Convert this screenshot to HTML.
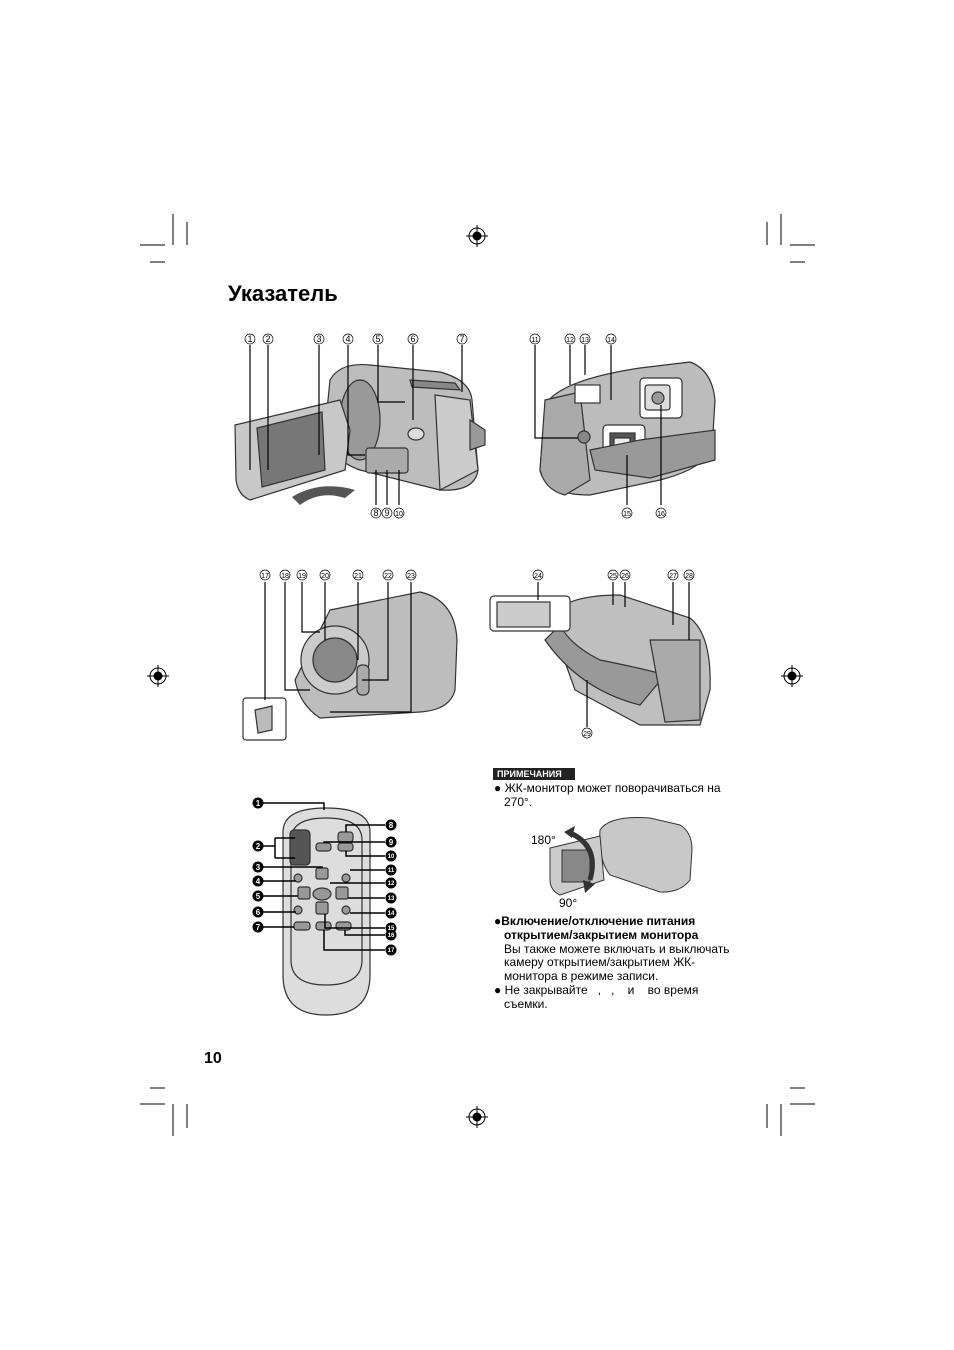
<!DOCTYPE html>
<html><head><meta charset="utf-8"><style>
body{margin:0;background:#fff;}
#p{position:relative;width:954px;height:1350px;overflow:hidden;font-family:"Liberation Sans",sans-serif;color:#000;}
.t{position:absolute;white-space:nowrap;}
svg{position:absolute;left:0;top:0;}
</style></head><body><div id="p">
<svg width="954" height="1350" viewBox="0 0 954 1350" font-family="Liberation Sans, DejaVu Sans, sans-serif">
<g stroke="#000" stroke-width="1" fill="none">
<path d="M173 214V245M187 222V245M140 245H165M150 262H165"/>
<path d="M781 214V245M767 222V245M790 245H815M790 262H805"/>
<path d="M173 1104V1136M187 1104V1128M140 1104H165M150 1088H165"/>
<path d="M781 1104V1136M767 1104V1128M790 1104H815M790 1088H805"/>
</g>
<g stroke="#000" fill="none">
<circle cx="477" cy="236" r="8"/><circle cx="477" cy="236" r="4" fill="#000"/><path d="M466 236H488M477 225V247"/>
<circle cx="477" cy="1117" r="8"/><circle cx="477" cy="1117" r="4" fill="#000"/><path d="M466 1117H488M477 1106V1128"/>
<circle cx="158" cy="676" r="8"/><circle cx="158" cy="676" r="4" fill="#000"/><path d="M147 676H169M158 665V687"/>
<circle cx="792" cy="676" r="8"/><circle cx="792" cy="676" r="4" fill="#000"/><path d="M781 676H803M792 665V687"/>
</g>

<g stroke="#333" stroke-width="1.2">
<path d="M330 380Q340 362 370 365L440 372Q470 380 472 400L478 470Q475 492 440 490L360 470Q330 460 325 430Z" fill="#bdbdbd"/>
<path d="M435 395L470 400L478 470L440 490Z" fill="#ccc"/>
<ellipse cx="360" cy="420" rx="20" ry="40" fill="#999"/>
<path d="M235 425L340 400L350 430L345 470L250 500Q238 495 236 480Z" fill="#c8c8c8"/>
<path d="M257 428L322 412L325 470L262 487Z" fill="#777"/>
<rect x="366" y="448" width="42" height="25" rx="3" fill="#aaa"/>
<ellipse cx="416" cy="434" rx="8" ry="6" fill="#ddd"/>
<path d="M410 380L455 383L460 390L412 387Z" fill="#888"/>
<path d="M470 420L485 430L485 445L470 450Z" fill="#999"/>
</g>
<path d="M292 497Q320 480 355 490L345 498Q320 490 300 505Z" fill="#555"/>
<g stroke="#333" stroke-width="1.2">
<path d="M545 405Q560 380 640 368L690 362Q712 370 715 400L712 450Q700 470 660 480L590 495Q545 495 540 470Z" fill="#bcbcbc"/>
<path d="M545 400L580 392L590 480L565 495Q545 490 540 470Z" fill="#aaa"/>
<rect x="640" y="378" width="42" height="40" rx="4" fill="#fff"/>
<rect x="645" y="385" width="25" height="25" rx="3" fill="#ddd"/><circle cx="658" cy="398" r="6" fill="#999"/>
<rect x="603" y="425" width="42" height="38" rx="4" fill="#fff"/>
<rect x="610" y="433" width="25" height="20" fill="#555"/><rect x="614" y="438" width="16" height="9" fill="#eee"/>
<path d="M590 450L640 440L715 430L715 460L650 478L595 470Z" fill="#999"/>
<rect x="575" y="385" width="25" height="18" fill="#fff"/>
<circle cx="584" cy="437" r="6" fill="#888"/>
</g>
<g stroke="#333" stroke-width="1.2">
<path d="M330 610L420 592Q455 600 457 640L455 690Q450 710 420 712L320 718Q300 705 295 680Z" fill="#bdbdbd"/>
<circle cx="335" cy="660" r="34" fill="#ccc"/><circle cx="335" cy="660" r="22" fill="#888"/>
<rect x="357" y="665" width="12" height="30" rx="5" fill="#aaa"/>
<rect x="243" y="698" width="43" height="42" rx="3" fill="#fff"/>
<path d="M255 710L272 706L272 730L258 733Z" fill="#bbb"/>
</g>
<g stroke="#333" stroke-width="1.2">
<path d="M550 620Q560 595 620 595L690 618Q712 635 710 690L700 725L640 725L575 690Z" fill="#bfbfbf"/>
<path d="M545 640Q580 690 640 705L665 675Q650 670 600 660Q570 645 560 625Z" fill="#999"/>
<path d="M650 640L700 640L700 720L665 722Z" fill="#aaa"/>
<rect x="490" y="596" width="80" height="35" rx="4" fill="#fff"/>
<rect x="497" y="602" width="53" height="25" fill="#ccc"/>
</g>
<g stroke="#333" stroke-width="1.2">
<path d="M283 832Q283 808 326 808Q370 808 370 832L370 975Q370 1015 326 1015Q283 1015 283 975Z" fill="#ddd"/>
<path d="M291 840Q291 818 326 818Q362 818 362 840L362 960Q362 985 326 985Q291 985 291 960Z" fill="none"/>
<rect x="290" y="830" width="20" height="35" rx="4" fill="#555"/>
<g fill="#999"><rect x="338" y="832" width="15" height="10" rx="3"/><rect x="316" y="843" width="15" height="8" rx="3"/><rect x="338" y="843" width="15" height="8" rx="3"/>
<rect x="316" y="868" width="12" height="11" rx="2"/><circle cx="298" cy="878" r="4"/><circle cx="346" cy="878" r="4"/>
<rect x="298" y="887" width="12" height="12" rx="2"/><ellipse cx="322" cy="894" rx="9" ry="6"/><rect x="336" y="887" width="12" height="12" rx="2"/>
<rect x="316" y="902" width="12" height="12" rx="2"/><circle cx="298" cy="910" r="4"/><circle cx="346" cy="910" r="4"/>
<rect x="294" y="922" width="16" height="8" rx="3"/><rect x="316" y="922" width="15" height="8" rx="3"/><rect x="336" y="922" width="15" height="8" rx="3"/></g>
</g>
<g stroke="#000" stroke-width="1.5" fill="none">
<path d="M263 803H324V810"/><path d="M263 846H275M275 838V858M275 838H295M275 858H295"/>
<path d="M263 867H322V868"/><path d="M263 881H296"/><path d="M263 896H298"/><path d="M263 912H296"/><path d="M263 927H294"/>
<path d="M385 825H346V832"/><path d="M385 842H324V843"/><path d="M385 856H346V851"/><path d="M385 870H350"/>
<path d="M385 883H330"/><path d="M385 898H348"/><path d="M385 913H350"/><path d="M385 928H325V914"/><path d="M385 935H345V930"/><path d="M385 950H324V930"/>
</g>
<g fill="#000"><circle cx="258" cy="803" r="5.5"/><circle cx="258" cy="846" r="5.5"/><circle cx="258" cy="867" r="5.5"/><circle cx="258" cy="881" r="5.5"/><circle cx="258" cy="896" r="5.5"/><circle cx="258" cy="912" r="5.5"/><circle cx="258" cy="927" r="5.5"/>
<circle cx="391" cy="825" r="5.5"/><circle cx="391" cy="842" r="5.5"/><circle cx="391" cy="856" r="5.5"/><circle cx="391" cy="870" r="5.5"/><circle cx="391" cy="883" r="5.5"/><circle cx="391" cy="898" r="5.5"/><circle cx="391" cy="913" r="5.5"/><circle cx="391" cy="928" r="5.5"/><circle cx="391" cy="935" r="5.5"/><circle cx="391" cy="950" r="5.5"/></g>
<g stroke="#000" stroke-width="1.2" fill="none">
<path d="M250 345V470"/><path d="M268 345V470"/><path d="M319 345V455"/><path d="M348 345V455H365"/><path d="M378 345V402H405"/><path d="M413 345V420"/><path d="M462 345V392"/>
<path d="M376 505V470M387 505V470M399 505V470"/>
<path d="M535 345V438H578"/><path d="M570 345V385"/><path d="M585 345V375"/><path d="M611 345V400"/><path d="M627 505V455"/><path d="M661 505V405"/>
<path d="M265 582V700"/><path d="M285 582V690H310"/><path d="M302 582V632H320"/><path d="M325 582V640"/><path d="M358 582V660"/><path d="M388 582V680H362"/><path d="M411 582V712H330"/>
<path d="M538 582V600"/><path d="M613 582V605"/><path d="M625 582V607"/><path d="M673 582V625"/><path d="M689 582V640"/><path d="M587 727V680"/>
</g>
<g font-size="9" text-anchor="middle" fill="#000">
<g><circle cx="250" cy="339" r="5" fill="#fff" stroke="#000" stroke-width=".7"/><text x="250" y="342">1</text></g>
<g><circle cx="268" cy="339" r="5" fill="#fff" stroke="#000" stroke-width=".7"/><text x="268" y="342">2</text></g>
<g><circle cx="319" cy="339" r="5" fill="#fff" stroke="#000" stroke-width=".7"/><text x="319" y="342">3</text></g>
<g><circle cx="348" cy="339" r="5" fill="#fff" stroke="#000" stroke-width=".7"/><text x="348" y="342">4</text></g>
<g><circle cx="378" cy="339" r="5" fill="#fff" stroke="#000" stroke-width=".7"/><text x="378" y="342">5</text></g>
<g><circle cx="413" cy="339" r="5" fill="#fff" stroke="#000" stroke-width=".7"/><text x="413" y="342">6</text></g>
<g><circle cx="462" cy="339" r="5" fill="#fff" stroke="#000" stroke-width=".7"/><text x="462" y="342">7</text></g>
<g><circle cx="376" cy="513" r="5" fill="#fff" stroke="#000" stroke-width=".7"/><text x="376" y="516">8</text></g>
<g><circle cx="387" cy="513" r="5" fill="#fff" stroke="#000" stroke-width=".7"/><text x="387" y="516">9</text></g>
<g><circle cx="399" cy="513" r="5" fill="#fff" stroke="#000" stroke-width=".7"/><text x="399" y="516" font-size="7">10</text></g>
</g>
<g font-size="7" text-anchor="middle" fill="#000">
<g><circle cx="535" cy="339" r="5" fill="#fff" stroke="#000" stroke-width=".7"/><text x="535" y="342">11</text></g>
<g><circle cx="570" cy="339" r="5" fill="#fff" stroke="#000" stroke-width=".7"/><text x="570" y="342">12</text></g>
<g><circle cx="585" cy="339" r="5" fill="#fff" stroke="#000" stroke-width=".7"/><text x="585" y="342">13</text></g>
<g><circle cx="611" cy="339" r="5" fill="#fff" stroke="#000" stroke-width=".7"/><text x="611" y="342">14</text></g>
<g><circle cx="627" cy="513" r="5" fill="#fff" stroke="#000" stroke-width=".7"/><text x="627" y="516">15</text></g>
<g><circle cx="661" cy="513" r="5" fill="#fff" stroke="#000" stroke-width=".7"/><text x="661" y="516">16</text></g>
<g><circle cx="265" cy="575" r="5" fill="#fff" stroke="#000" stroke-width=".7"/><text x="265" y="578">17</text></g>
<g><circle cx="285" cy="575" r="5" fill="#fff" stroke="#000" stroke-width=".7"/><text x="285" y="578">18</text></g>
<g><circle cx="302" cy="575" r="5" fill="#fff" stroke="#000" stroke-width=".7"/><text x="302" y="578">19</text></g>
<g><circle cx="325" cy="575" r="5" fill="#fff" stroke="#000" stroke-width=".7"/><text x="325" y="578">20</text></g>
<g><circle cx="358" cy="575" r="5" fill="#fff" stroke="#000" stroke-width=".7"/><text x="358" y="578">21</text></g>
<g><circle cx="388" cy="575" r="5" fill="#fff" stroke="#000" stroke-width=".7"/><text x="388" y="578">22</text></g>
<g><circle cx="411" cy="575" r="5" fill="#fff" stroke="#000" stroke-width=".7"/><text x="411" y="578">23</text></g>
<g><circle cx="538" cy="575" r="5" fill="#fff" stroke="#000" stroke-width=".7"/><text x="538" y="578">24</text></g>
<g><circle cx="613" cy="575" r="5" fill="#fff" stroke="#000" stroke-width=".7"/><text x="613" y="578">25</text></g>
<g><circle cx="625" cy="575" r="5" fill="#fff" stroke="#000" stroke-width=".7"/><text x="625" y="578">26</text></g>
<g><circle cx="673" cy="575" r="5" fill="#fff" stroke="#000" stroke-width=".7"/><text x="673" y="578">27</text></g>
<g><circle cx="689" cy="575" r="5" fill="#fff" stroke="#000" stroke-width=".7"/><text x="689" y="578">28</text></g>
<g><circle cx="587" cy="733" r="5" fill="#fff" stroke="#000" stroke-width=".7"/><text x="587" y="736">29</text></g>
</g>
<g font-size="8" font-weight="bold" fill="#fff" text-anchor="middle">
<text x="258" y="806">1</text><text x="258" y="849">2</text><text x="258" y="870">3</text><text x="258" y="884">4</text><text x="258" y="899">5</text><text x="258" y="915">6</text><text x="258" y="930">7</text>
<text x="391" y="828">8</text><text x="391" y="845">9</text><g font-size="6"><text x="391" y="858">10</text><text x="391" y="872">11</text><text x="391" y="885">12</text><text x="391" y="900">13</text><text x="391" y="915">14</text><text x="391" y="930">15</text><text x="391" y="937">16</text><text x="391" y="952">17</text></g>
</g>
<g stroke="#333" stroke-width="1">
<path d="M600 830Q610 815 650 818L680 825Q692 832 692 850L690 880Q680 893 660 892L610 875Q598 860 600 830Z" fill="#c8c8c8"/>
<path d="M550 848L600 836L604 880L560 895Q550 890 550 880Z" fill="#ccc"/>
<rect x="562" y="850" width="28" height="32" fill="#888"/>
</g>
<path d="M568 832Q600 845 590 880" stroke="#333" stroke-width="5" fill="none"/>
<path d="M564 832L575 826L572 838Z M585 893L595 884L583 880Z" fill="#333"/>
</svg>

<div class="t" style="left:228px;top:281px;font-size:22px;font-weight:bold;">Указатель</div>
<div class="t" style="left:493px;top:768px;width:82px;height:12px;background:#222;color:#fff;font-size:9px;font-weight:bold;line-height:12px;padding-left:4px;box-sizing:border-box;">ПРИМЕЧАНИЯ</div>
<div class="t" style="left:494px;top:781px;font-size:12px;line-height:14px;">● ЖК-монитор может поворачиваться на<br>&nbsp;&nbsp;&nbsp;270°.</div>
<div class="t" style="left:531px;top:833px;font-size:12px;">180°</div>
<div class="t" style="left:559px;top:896px;font-size:12px;">90°</div>
<div class="t" style="left:494px;top:915px;font-size:12px;line-height:13.8px;"><b>●Включение/отключение питания<br>&nbsp;&nbsp;&nbsp;открытием/закрытием монитора</b><br>&nbsp;&nbsp;&nbsp;Вы также можете включать и выключать<br>&nbsp;&nbsp;&nbsp;камеру открытием/закрытием ЖК-<br>&nbsp;&nbsp;&nbsp;монитора в режиме записи.<br>● Не закрывайте &nbsp;&nbsp;, &nbsp;&nbsp;, &nbsp;&nbsp;&nbsp;и &nbsp;&nbsp;&nbsp;во время<br>&nbsp;&nbsp;&nbsp;съемки.</div>
<div class="t" style="left:204px;top:1050px;font-size:16px;font-weight:bold;">10</div>
</div></body></html>
